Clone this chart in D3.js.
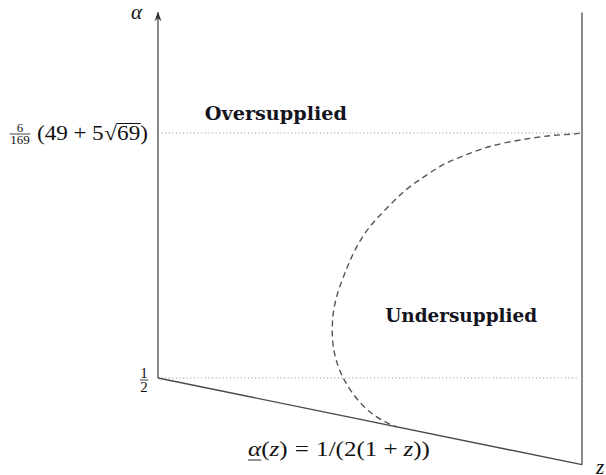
<!DOCTYPE html>
<html><head><meta charset="utf-8">
<script src="https://cdn.jsdelivr.net/npm/d3@7"></script>
<style>
body{margin:0;background:#fff}
svg{display:block}
</style>
</head><body>
<svg id="chart" width="606" height="475"></svg>
<script>
// z runs along the horizontal, normalised so the right-hand wall sits at z = 1
const zDomain = [0, 1];
// α levels marked on the vertical axis
const alphaLow = 0.5;
const alphaHigh = 6 / 169 * (49 + 5 * Math.sqrt(69)); // ≈ 3.214
const alphaTicks = [alphaLow, alphaHigh];
const alphaTop = 4.55;
// lower boundary α(z), drawn as a straight segment
const boundaryZ = [0, 1];
const boundaryAlpha = [0.5, -0.46];
// dashed frontier between the two regions
const frontierZ = [0.995, 0.988, 0.932, 0.884, 0.823, 0.767, 0.719, 0.672, 0.634, 0.587, 0.547, 0.507, 0.476, 0.453, 0.441, 0.425, 0.413, 0.410, 0.413, 0.425, 0.436, 0.453, 0.476, 0.507, 0.540, 0.564];
const frontierAlpha = [3.214, 3.203, 3.192, 3.159, 3.114, 3.048, 2.959, 2.871, 2.749, 2.605, 2.416, 2.228, 2.029, 1.807, 1.663, 1.475, 1.253, 1.032, 0.810, 0.622, 0.500, 0.367, 0.223, 0.090, 0.001, -0.043];
// region names and where they sit
const regionLabels = ["Oversupplied", "Undersupplied"];
const regionZ = [0.278, 0.715];
const regionAlpha = [3.358, 1.12];

const svg = d3.select("#chart");
const x = d3.scaleLinear().domain(zDomain).range([158, 582]);
const y = d3.scaleLinear().domain([alphaLow, alphaHigh]).range([378, 133]);

const axisColor = "#5a5a5a";
const serif = "'DejaVu Serif', serif";
const mathFont = "'Liberation Serif', 'DejaVu Serif', serif";

// arrow head for the α axis
svg.append("defs").append("marker")
  .attr("id", "arrow").attr("viewBox", "0 0 10 10")
  .attr("refX", 9).attr("refY", 5)
  .attr("markerWidth", 7).attr("markerHeight", 7)
  .attr("orient", "auto-start-reverse")
  .append("path").attr("d", "M0,1.5 L10,5 L0,8.5 L3,5 Z").attr("fill", "#333");

// dotted reference levels
svg.selectAll("line.level").data(alphaTicks).join("line")
  .attr("class", "level")
  .attr("x1", x(0)).attr("x2", x(0.993))
  .attr("y1", d => y(d)).attr("y2", d => y(d))
  .attr("stroke", "#8f8f8f").attr("stroke-width", 1)
  .attr("stroke-dasharray", "1 2.6");

// vertical α axis
svg.append("line")
  .attr("x1", x(0)).attr("x2", x(0))
  .attr("y1", y(alphaLow)).attr("y2", y(alphaTop))
  .attr("stroke", axisColor).attr("stroke-width", 1.4)
  .attr("marker-end", "url(#arrow)");

// right-hand wall
svg.append("line")
  .attr("x1", x(1)).attr("x2", x(1))
  .attr("y1", y(alphaTop)).attr("y2", y(boundaryAlpha[1]))
  .attr("stroke", axisColor).attr("stroke-width", 1.4);

// lower boundary
const boundary = d3.zip(boundaryZ, boundaryAlpha);
svg.append("path")
  .attr("d", d3.line().x(d => x(d[0])).y(d => y(d[1]))(boundary))
  .attr("fill", "none").attr("stroke", "#4a4a4a").attr("stroke-width", 1.4);

// frontier
const frontier = d3.zip(frontierZ, frontierAlpha);
svg.append("path")
  .attr("d", d3.line().x(d => x(d[0])).y(d => y(d[1])).curve(d3.curveBasis)(frontier))
  .attr("fill", "none").attr("stroke", "#555").attr("stroke-width", 1.4)
  .attr("stroke-dasharray", "6 4");

// region names
const regionWidths = [142, 152];
svg.selectAll("text.region").data(regionLabels).join("text")
  .attr("class", "region")
  .attr("x", (d, i) => x(regionZ[i]) - regionWidths[i] / 2)
  .attr("y", (d, i) => y(regionAlpha[i]))
  .attr("textLength", (d, i) => regionWidths[i])
  .attr("lengthAdjust", "spacingAndGlyphs")
  .attr("font-family", serif).attr("font-weight", "bold")
  .attr("font-size", 18).attr("fill", "#141420")
  .text(d => d);

// lays out a run of math pieces left to right, then stretches it to the given width
function mathRun(parent, x0, base, pieces, size, width) {
  const g = parent.append("g");
  let cx = x0;
  const placed = [];
  pieces.forEach(p => {
    const t = g.append("text")
      .attr("x", cx).attr("y", base)
      .attr("font-family", mathFont).attr("font-size", p.size || size)
      .attr("font-style", p.italic ? "italic" : "normal")
      .attr("fill", "#111")
      .text(p.t);
    const w = t.node().getComputedTextLength();
    placed.push({x: cx, w: w, node: t});
    cx += w + (p.gap || 0);
  });
  const k = width / (cx - x0);
  g.attr("transform", `translate(${x0},0) scale(${k},1) translate(${-x0},0)`);
  placed.forEach(p => { p.x = x0 + (p.x - x0) * k; p.w *= k; });
  return placed;
}

function fraction(g, cx, barY, num, den, size) {
  g.append("text").attr("x", cx).attr("y", barY - 2.5)
    .attr("text-anchor", "middle").attr("font-family", mathFont)
    .attr("font-size", size).attr("fill", "#111").text(num);
  g.append("text").attr("x", cx).attr("y", barY + size * 0.78)
    .attr("text-anchor", "middle").attr("font-family", mathFont)
    .attr("font-size", size).attr("fill", "#111").text(den);
  const w = Math.max(num.length, den.length) * size * 0.5 + 1;
  g.append("line").attr("x1", cx - w / 2).attr("x2", cx + w / 2)
    .attr("y1", barY).attr("y2", barY)
    .attr("stroke", "#111").attr("stroke-width", 0.8);
}

const labels = svg.append("g");

// α axis name
labels.append("text").attr("x", 131).attr("y", 19)
  .attr("font-family", mathFont).attr("font-style", "italic")
  .attr("font-size", 21).attr("fill", "#111").text("α");

// z label at the corner
labels.append("text").attr("x", 596).attr("y", 474)
  .attr("font-family", mathFont).attr("font-style", "italic")
  .attr("font-size", 21).attr("fill", "#111").text("z");

// tick label 1/2
fraction(labels, 144, y(alphaLow) + 2, "1", "2", 15);

// tick label 6/169 (49 + 5√69)
const hiY = y(alphaHigh);
fraction(labels, 20, hiY + 1, "6", "169", 13);
const run = mathRun(labels, 37, hiY + 7.5, [
  {t: "(49", gap: 5}, {t: "+", gap: 5}, {t: "5", gap: 0.5}, {t: "√", gap: 0}, {t: "69"}, {t: ")"}
], 21, 111);
const rad = run[4];
labels.append("line")
  .attr("x1", rad.x - 0.5).attr("x2", rad.x + rad.w + 0.5)
  .attr("y1", hiY - 9.5).attr("y2", hiY - 9.5)
  .attr("stroke", "#111").attr("stroke-width", 1);

// boundary formula
const f = mathRun(labels, 248, 456, [
  {t: "α", italic: true}, {t: "(", gap: 0}, {t: "z", italic: true}, {t: ")", gap: 6},
  {t: "=", gap: 6}, {t: "1/(2(1", gap: 5}, {t: "+", gap: 5}, {t: "z", italic: true}, {t: "))"}
], 21, 182);
labels.append("line")
  .attr("x1", f[0].x).attr("x2", f[0].x + f[0].w)
  .attr("y1", 460).attr("y2", 460)
  .attr("stroke", "#111").attr("stroke-width", 0.9);
</script>
</body></html>
